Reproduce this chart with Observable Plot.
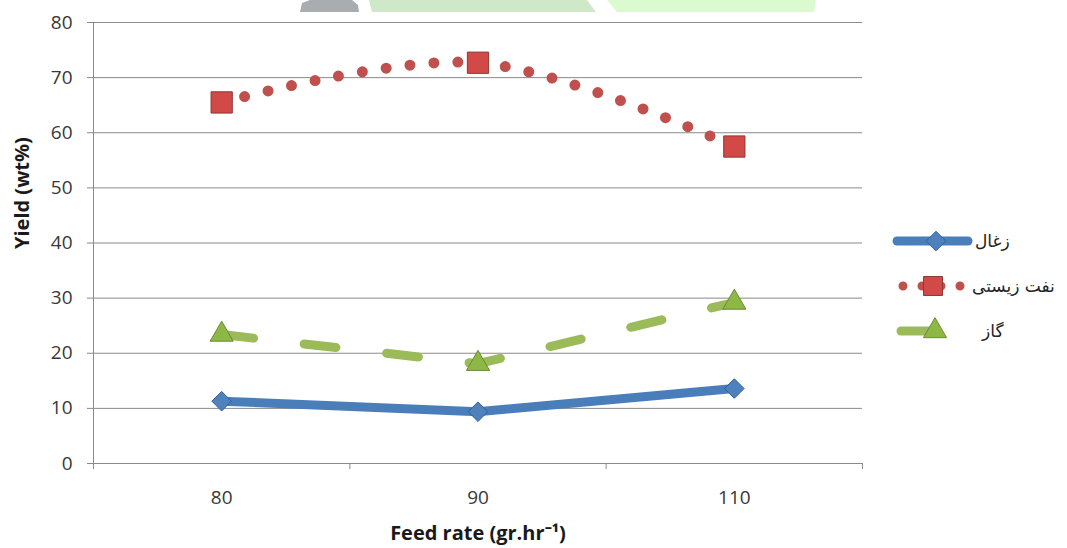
<!DOCTYPE html>
<html>
<head>
<meta charset="utf-8">
<script src="https://cdn.jsdelivr.net/npm/d3@7"></script>
<script src="https://cdn.jsdelivr.net/npm/@observablehq/plot@0.6"></script>
<style>
  html, body { margin: 0; padding: 0; background: #fff; }
  #wrap { position: relative; width: 1067px; height: 548px; overflow: hidden; }
  #legend { position: absolute; left: 0; top: 0; }
</style>
</head>
<body>
<div id="wrap"></div>
<script>
// ---- data ----
const feedRates = ["80", "90", "110"];
const charYield = [11.3, 9.4, 13.6];
const bioOilYield = [65.5, 72.7, 57.5];
const gasYield = [23.4, 18.1, 29.2];
const seriesNames = ["زغال", "نفت زیستی", "گاز"];
const yTicks = [0, 10, 20, 30, 40, 50, 60, 70, 80];
const xTitle = "Feed rate (gr.hr⁻¹)";
const yTitle = "Yield (wt%)";

const idx = feedRates.map((d, i) => i);
const bounds = d3.range(feedRates.length + 1).map(i => i - 0.5);

const blue = "#4A7EBB", red = "#C0504D", green = "#9BBB59";
const gridColor = "#8a8a8a";

const rows = (vals) => idx.map(i => ({i, v: vals[i]}));

const chart = Plot.plot({
  width: 1067,
  height: 548,
  marginLeft: 93,
  marginRight: 205,
  marginTop: 22,
  marginBottom: 85,
  style: {fontFamily: "'Open Sans', sans-serif", fontSize: "19px", color: "#404040", background: "transparent"},
  x: {type: "linear", domain: [-0.5, feedRates.length - 0.5]},
  y: {domain: [0, 80]},
  marks: [
    Plot.gridY(yTicks, {stroke: gridColor, strokeOpacity: 1}),
    Plot.ruleX([-0.5], {stroke: gridColor}),
    Plot.axisY({ticks: yTicks, tickSize: 6, tickPadding: 15, stroke: gridColor, fill: "#383838", label: null, fontSize: 19}),
    Plot.axisX({ticks: bounds, tickSize: 6, tickFormat: () => "", stroke: gridColor, label: null}),
    Plot.axisX({ticks: idx, tickSize: 0, tickPadding: 27, tickFormat: i => feedRates[i], fill: "#383838", label: null, fontSize: 19}),
    // lines
    Plot.line(rows(gasYield), {x: "i", y: "v", stroke: green, strokeWidth: 9, strokeLinecap: "round", strokeDasharray: "32 51"}),
    Plot.line(rows(charYield), {x: "i", y: "v", stroke: blue, strokeWidth: 9, strokeLinecap: "round", strokeLinejoin: "round"}),
    Plot.line(rows(bioOilYield), {x: "i", y: "v", stroke: red, strokeWidth: 11, strokeLinecap: "round", strokeDasharray: "0 24", curve: "catmull-rom"}),
    // markers
    Plot.dot(rows(charYield), {x: "i", y: "v", symbol: "diamond2", r: 8.8, fill: "#4F81BD", stroke: "#2f5f98", strokeWidth: 1}),
    Plot.dot(rows(bioOilYield), {x: "i", y: "v", symbol: "square", r: 12, fill: "#D24A47", stroke: "#8C3836", strokeWidth: 1}),
    Plot.dot(rows(gasYield), {x: "i", y: "v", symbol: "triangle", r: 8.6, fill: "#8DB845", stroke: "#6B8A34", strokeWidth: 1}),
    // titles
    Plot.text([xTitle], {frameAnchor: "bottom", dy: 70, fontWeight: "bold", fontSize: 20, fill: "#1a1a1a", lineAnchor: "middle"}),
    Plot.text([yTitle], {frameAnchor: "left", dx: -71, dy: 6, rotate: -90, fontWeight: "bold", fontSize: 20, fill: "#1a1a1a", lineAnchor: "middle"})
  ]
});
document.getElementById("wrap").appendChild(chart);

// ---- legend + background watermark fragments ----
const lg = d3.select("#wrap").append("svg").attr("id", "legend")
  .attr("width", 1067).attr("height", 548)
  .style("font-family", "'DejaVu Sans', sans-serif");
// faint watermark fragments at the top edge
const wm = [
  {pts: "300,12 302,3 310,0 352,0 358,5 359,12", fill: "#a9adb0"},
  {pts: "369,0 587,0 596,12 372,12", fill: "#cfe8c8"},
  {pts: "607,0 816,0 814,12 617,12", fill: "#dcfad0"}
];
wm.forEach(w => lg.append("polygon").attr("points", w.pts).attr("fill", w.fill));

const legendRows = [
  {name: seriesNames[0], y: 241, color: blue, dash: null, sw: 9, sym: d3.symbolDiamond2, r: 8.8, fill: "#4F81BD", st: "#2f5f98", x1: 897, x2: 968, mx: 936, tx: 975},
  {name: seriesNames[1], y: 286, color: red, dash: "0 19", sw: 9, sym: d3.symbolSquare, r: 10.7, fill: "#D24A47", st: "#8C3836", x1: 903, x2: 960.5, mx: 933, tx: 972},
  {name: seriesNames[2], y: 331, color: green, dash: "36 60", sw: 9, sym: d3.symbolTriangle, r: 8.6, fill: "#8DB845", st: "#6B8A34", x1: 901, x2: 968, mx: 935, tx: 982}
];
legendRows.forEach(d => {
  lg.append("line").attr("x1", d.x1).attr("x2", d.x2).attr("y1", d.y).attr("y2", d.y)
    .attr("stroke", d.color).attr("stroke-width", d.sw).attr("stroke-linecap", "round")
    .attr("stroke-dasharray", d.dash);
  lg.append("path").attr("d", d3.symbol(d.sym, Math.PI * d.r * d.r)())
    .attr("transform", `translate(${d.mx},${d.y})`).attr("fill", d.fill).attr("stroke", d.st);
  lg.append("text").attr("x", d.tx).attr("y", d.y).attr("dy", "0.35em")
    .attr("font-size", 17).attr("fill", "#222").text(d.name);
});
</script>
</body>
</html>
